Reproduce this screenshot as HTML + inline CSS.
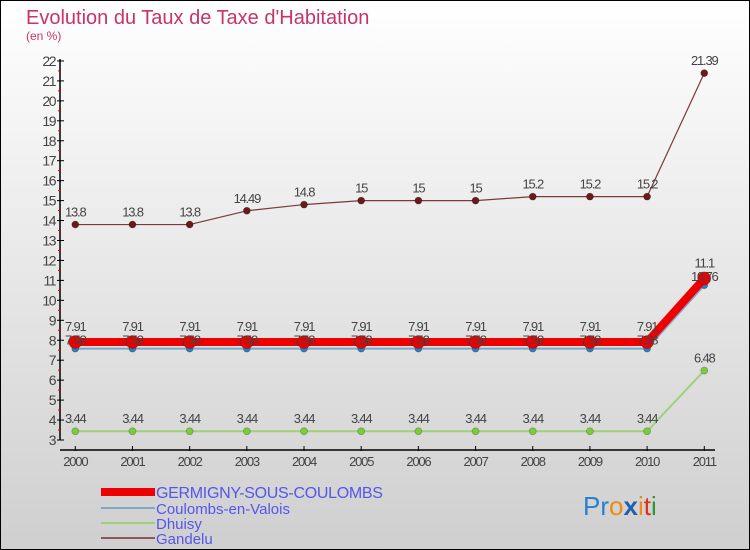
<!DOCTYPE html>
<html><head><meta charset="utf-8"><style>
body{margin:0;width:750px;height:550px;overflow:hidden;font-family:"Liberation Sans",sans-serif}
svg{display:block}
</style></head><body>
<svg id="chart" width="750" height="550" xmlns="http://www.w3.org/2000/svg">
<defs><linearGradient id="bg" x1="0" y1="0" x2="0" y2="1"><stop offset="0" stop-color="#ffffff"/><stop offset="1" stop-color="#cfcfcf"/></linearGradient></defs>
<rect x="0.5" y="0.5" width="749" height="549" fill="url(#bg)" stroke="#000"/>
<text x="26" y="24" font-size="20" fill="#c8336a">Evolution du Taux de Taxe d'Habitation</text>
<text x="26" y="40" font-size="12" fill="#c8336a">(en %)</text>
<g id="axes"></g>
<g id="series"></g>
<g id="labels"></g>
<g id="legend">
<rect x="101" y="488" width="54" height="8" fill="#ee0000"/>
<text x="156" y="498" font-size="16" fill="#5555ee" letter-spacing="-0.3">GERMIGNY-SOUS-COULOMBS</text>
<line x1="101" y1="508" x2="155" y2="508" stroke="#7ba7c9" stroke-width="2"/>
<text x="156" y="514" font-size="15" fill="#5555ee">Coulombs-en-Valois</text>
<line x1="101" y1="523" x2="155" y2="523" stroke="#9fd07a" stroke-width="2"/>
<text x="156" y="529" font-size="15" fill="#5555ee">Dhuisy</text>
<line x1="101" y1="538" x2="155" y2="538" stroke="#8a5a5a" stroke-width="2"/>
<text x="156" y="544" font-size="15" fill="#5555ee">Gandelu</text>
</g>
<g font-size="26">
<text x="583" y="515"><tspan fill="#2a7fd0">Pr</tspan><tspan fill="#f08a10">o</tspan><tspan fill="#1f5fb0" font-weight="bold">x</tspan><tspan fill="#f08a10">i</tspan><tspan fill="#e03020">t</tspan><tspan fill="#2a9a30">i</tspan></text>
</g>
</svg>
<script>
const years=["2000","2001","2002","2003","2004","2005","2006","2007","2008","2009","2010","2011"];
const germigny=[7.91,7.91,7.91,7.91,7.91,7.91,7.91,7.91,7.91,7.91,7.91,11.1];
const coulombs=[7.58,7.58,7.58,7.58,7.58,7.58,7.58,7.58,7.58,7.58,7.58,10.76];
const dhuisy=[3.44,3.44,3.44,3.44,3.44,3.44,3.44,3.44,3.44,3.44,3.44,6.48];
const gandelu=[13.8,13.8,13.8,14.49,14.8,15,15,15,15.2,15.2,15.2,21.39];
const yTicks=[3,4,5,6,7,8,9,10,11,12,13,14,15,16,17,18,19,20,21,22];
const NS="http://www.w3.org/2000/svg";
const X=i=>75.3+i*57.18;
const Y=v=>440-(v-3)*19.95;
function mk(tag,attrs,parent){const e=document.createElementNS(NS,tag);for(const k in attrs)e.setAttribute(k,attrs[k]);parent.appendChild(e);return e;}
const ax=document.getElementById('axes');
const ya=mk('line',{x1:60,y1:Y(22)-2,x2:60,y2:Y(3),stroke:'#000','stroke-width':1.5},ax);


const xa=mk('line',{x1:60,y1:450,x2:715,y2:450,stroke:'#000','stroke-width':1.5},ax);


yTicks.forEach((t,i)=>{
 mk('line',{x1:57,y1:Y(t),x2:64,y2:Y(t),stroke:'#000'},ax);
 if(i<yTicks.length-1) mk('line',{x1:58,y1:Y(t+0.5),x2:61,y2:Y(t+0.5),stroke:'#e00000'},ax);
 const l=mk('text',{x:55,y:Y(t)+5,'text-anchor':'end','font-size':14,fill:'#444','letter-spacing':'-1.5'},ax);
 l.textContent=t;
 
 
});
years.forEach((y,i)=>{
 mk('line',{x1:X(i),y1:446,x2:X(i),y2:451,stroke:'#000'},ax);
 const l=mk('text',{x:X(i),y:466,'text-anchor':'middle','font-size':13,fill:'#444','letter-spacing':'-1.2'},ax);
 l.textContent=y;
 
 
});
const sg=document.getElementById('series');
const lg=document.getElementById('labels');
function series(name,vals,color,w,r,dot,labOff){
 const g=mk('g',{},sg);
 
 
 const p=mk('polyline',{points:vals.map((v,i)=>X(i)+','+Y(v)).join(' '),fill:'none',stroke:color,'stroke-width':w,'stroke-linejoin':'round'},g);
 
 
 vals.forEach((v,i)=>{
  const c=mk('circle',{cx:X(i),cy:Y(v),r:r,fill:dot,stroke:'rgba(0,0,0,0.25)','stroke-width':0.8},g);
  
  
  const t=mk('text',{x:X(i),y:Y(v)+labOff,'text-anchor':'middle','font-size':13,fill:'#444','letter-spacing':'-1.2'},lg);
  t.textContent=v;
  
  
 });
}
series('gandelu',gandelu,'#7a3a3a',1.2,3.5,'#6a1a1a',-8);
series('dhuisy',dhuisy,'#9fd07a',2,3.5,'#7acc3a',-8);
series('coulombs',coulombs,'#7ba7c9',2,3.5,'#2a7fc0',-4);
series('germigny',germigny,'#ee0000',8,6.5,'#ee0000',-11);
</script>
</body></html>
